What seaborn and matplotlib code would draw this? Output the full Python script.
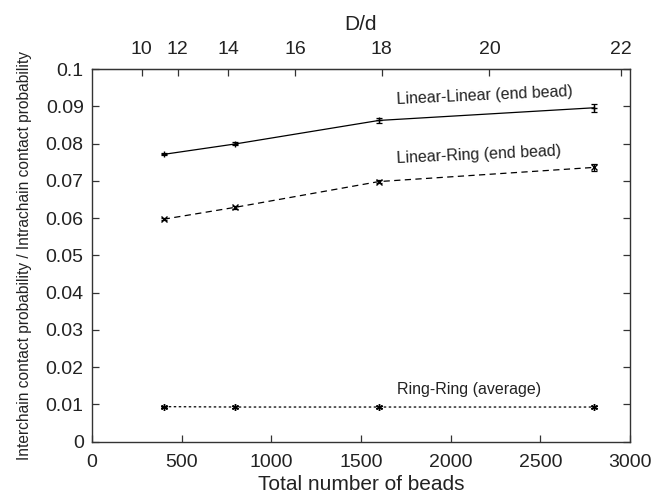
import numpy as np
import pandas as pd
import matplotlib
matplotlib.use("Agg")
import matplotlib.pyplot as plt
import seaborn as sns

# Data
beads = [400, 800, 1600, 2800]
linear_linear = [0.0771, 0.0799, 0.0862, 0.0896]
linear_linear_err = [0.0003, 0.0004, 0.0006, 0.0011]
linear_ring = [0.0597, 0.0629, 0.0698, 0.0736]
linear_ring_err = [0.0003, 0.0004, 0.0005, 0.0010]
ring_ring = [0.0094, 0.0093, 0.0093, 0.0093]
ring_ring_err = [0.0002, 0.0002, 0.0002, 0.0002]

d_ticks = [10, 12, 14, 16, 18, 20, 22]
BEADS_PER_D3 = 0.277  # N = c * (D/d)^3

sns.set_style("ticks")
plt.rcParams["font.family"] = ["Liberation Sans", "DejaVu Sans"]
plt.rcParams["xtick.direction"] = "in"
plt.rcParams["ytick.direction"] = "in"

fig = plt.figure(figsize=(6.6, 4.94), dpi=100)
ax = fig.add_axes([0.1394, 0.1059, 0.8151, 0.7544])

series = [
    (linear_linear, linear_linear_err, "-", "+", 5),
    (linear_ring, linear_ring_err, (0, (5, 3.5)), "x", 4),
    (ring_ring, ring_ring_err, (0, (2, 2)), (6, 2, 0), 5),
]
for vals, errs, ls, mk, ms in series:
    df = pd.DataFrame({"beads": beads, "value": vals})
    sns.lineplot(data=df, x="beads", y="value", ax=ax, color="black",
                 linewidth=0.9, linestyle=ls, marker=mk, markersize=ms,
                 markeredgewidth=1.0, markeredgecolor="black")
    ax.errorbar(beads, vals, yerr=errs, fmt="none", ecolor="black",
                elinewidth=0.9, capsize=2.5, capthick=0.9)

ax.set_xlim(0, 3000)
ax.set_ylim(0, 0.1)
ax.set_xticks(np.arange(0, 3001, 500))
ax.set_yticks(np.arange(0, 0.1001, 0.01))
ax.yaxis.set_major_formatter(matplotlib.ticker.FormatStrFormatter("%g"))
ax.tick_params(axis="both", labelsize=14, length=5, width=0.9, color="#333333",
               labelcolor="#222222")
ax.tick_params(axis="x", pad=9)
ax.tick_params(axis="y", right=True, pad=6)
for s in ax.spines.values():
    s.set_linewidth(1.0)
    s.set_color("#333333")

ax.set_xlabel("Total number of beads", fontsize=15, labelpad=3, color="#222222")
ax.set_ylabel("Interchain contact probability / Intrachain contact probability",
              fontsize=11.2, labelpad=10, color="#222222")

top = ax.secondary_xaxis(
    "top",
    functions=(lambda n: np.cbrt(np.clip(n, 0, None) / BEADS_PER_D3),
               lambda d: BEADS_PER_D3 * np.asarray(d) ** 3))
top.set_xticks(d_ticks)
top.tick_params(direction="in", labelsize=14, length=5, width=0.9, color="#333333",
                labelcolor="#222222", pad=8)
top.set_xlabel("D/d", fontsize=15, labelpad=8, color="#222222")

ax.text(1701, 0.0917, "Linear-Linear (end bead)", fontsize=11.5, rotation=2.6,
        ha="left", va="center", rotation_mode="anchor", color="#222222")
ax.text(1701, 0.0759, "Linear-Ring (end bead)", fontsize=11.5, rotation=2.6,
        ha="left", va="center", rotation_mode="anchor", color="#222222")
ax.text(1701, 0.0139, "Ring-Ring (average)", fontsize=11.5, ha="left",
        va="center", color="#222222")

fig.savefig("out.png", dpi=100)
